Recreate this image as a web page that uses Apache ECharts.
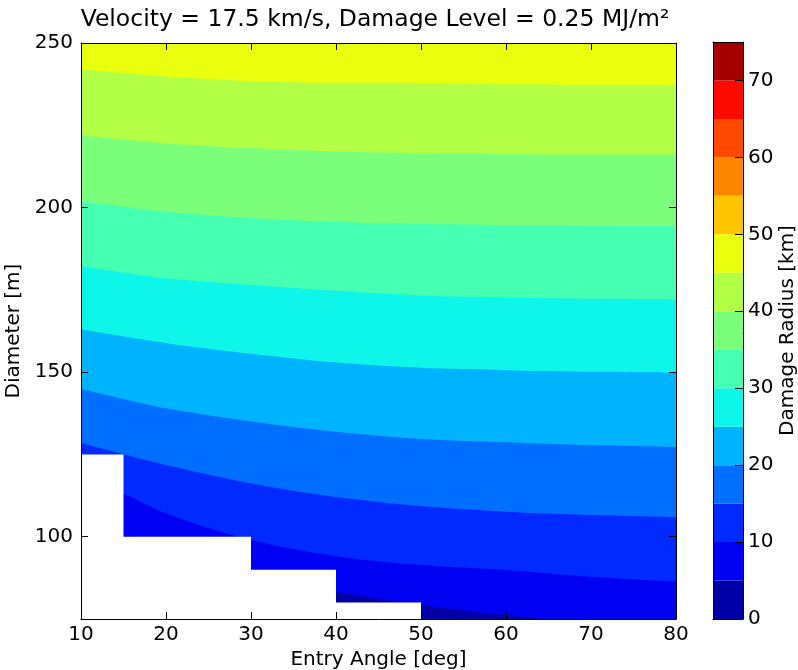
<!DOCTYPE html>
<html>
<head>
<meta charset="utf-8">
<title>Damage radius contours</title>
<script src="https://cdn.jsdelivr.net/npm/echarts@6/dist/echarts.min.js"></script>
<style>
  html, body { margin: 0; padding: 0; background: #fff; }
  #chart { width: 798px; height: 670px; }
</style>
</head>
<body>
<div id="chart"></div>
<script>
const angles = [10, 20, 30, 40, 50, 60, 70, 80]

// diameter [m] of each contour line (damage radius in km) at the angles above
const contour5 = [99, 93, 88, 83.3, 79.2, 76.2, 73.5, 71]
const contour10 = [120, 107.1, 99.0, 94.1, 91.4, 89.9, 87.8, 86.3]
const contour15 = [128.5, 121.8, 116.2, 112.1, 109.3, 107.6, 106.6, 105.9]
const contour20 = [144.9, 139.0, 135.0, 131.9, 129.7, 128.7, 127.8, 127.3]
const contour25 = [163.0, 158.8, 155.6, 152.9, 151.3, 150.6, 150.1, 149.8]
const contour30 = [182.2, 178.5, 176.5, 174.7, 173.3, 172.7, 172.3, 172.1]
const contour35 = [202.0, 198.7, 196.8, 195.6, 195.0, 194.7, 194.5, 194.4]
const contour40 = [222.0, 219.5, 218.1, 217.0, 216.5, 216.2, 216.1, 216.0]
const contour45 = [242.0, 239.8, 238.4, 237.9, 237.8, 237.5, 237.3, 237.2]

// region with no data (drawn white), stepped
const maskAngles = [10, 15, 30, 40, 50]
const maskTops = [125, 100, 90, 80, 75]

// contour levels / colorbar
const levels = [0, 5, 10, 15, 20, 25, 30, 35, 40, 45, 50, 55, 60, 65, 70, 75]
const levelTicks = [0, 10, 20, 30, 40, 50, 60, 70]
const angleTicks = [10, 20, 30, 40, 50, 60, 70, 80]
const diameterTicks = [100, 150, 200, 250]

// jet colours, one per band
const bandColors = ['#0000a6', '#0000f3', '#002aff', '#006eff', '#00b3ff', '#0df6e9', '#45ffb2', '#7bff7b',
  '#b2ff45', '#e9ff0d', '#ffc600', '#ff8700', '#ff4800', '#ff0a00', '#a60000']

const contourLines = [contour5, contour10, contour15, contour20, contour25, contour30, contour35, contour40, contour45]

const font = 'DejaVu Sans'
const black = '#000'

const chart = echarts.init(document.getElementById('chart'))

// each line fills everything above it, painted low to high
const contourSeries = contourLines.map((line, i) => {
  return {
    type: 'line',
    xAxisIndex: 0,
    yAxisIndex: 0,
    data: angles.map((a, j) => [a, line[j]]),
    smooth: 0.3,
    symbol: 'none',
    lineStyle: { width: 0 },
    areaStyle: { origin: 'end', color: bandColors[i + 1], opacity: 1 },
    silent: true,
    z: 2 + i * 0.01
  }
})

const maskSeries = {
  type: 'line',
  xAxisIndex: 0,
  yAxisIndex: 0,
  step: 'end',
  data: maskAngles.map((a, j) => [a, maskTops[j]]),
  symbol: 'none',
  lineStyle: { width: 0 },
  areaStyle: { origin: 'start', color: '#fff', opacity: 1 },
  silent: true,
  z: 3
}

const colorbarSeries = {
  type: 'custom',
  xAxisIndex: 2,
  yAxisIndex: 2,
  data: levels.slice(0, -1).map((lo, i) => [lo, levels[i + 1]]),
  encode: { y: [0, 1] },
  renderItem: function(params, api) {
    const p0 = api.coord([0, api.value(0)])
    const p1 = api.coord([1, api.value(1)])
    return {
      type: 'rect',
      shape: { x: p0[0], y: p1[1], width: p1[0] - p0[0], height: p0[1] - p1[1] },
      style: { fill: bandColors[params.dataIndex] }
    }
  },
  silent: true
}

const labelStyle = { color: black, fontFamily: font, fontSize: 20 }
const nameStyle = { color: black, fontFamily: font, fontSize: 20 }

chart.setOption({
  animation: false,
  backgroundColor: '#fff',
  title: {
    text: 'Velocity = 17.5 km/s, Damage Level = 0.25 MJ/m²',
    left: 375,
    top: 8,
    padding: 0,
    textAlign: 'center',
    textStyle: { color: black, fontFamily: font, fontSize: 23.5, fontWeight: 'normal' }
  },
  grid: [
    { left: 81, top: 43, width: 595, height: 576, outerBoundsMode: 'none', containLabel: false,
      backgroundColor: bandColors[0], show: true, borderWidth: 0 },
    { left: 713, top: 42, width: 30, height: 577, outerBoundsMode: 'none', containLabel: false }
  ],
  xAxis: [
    {
      gridIndex: 0, type: 'value', min: 10, max: 80, interval: 10, z: 10,
      position: 'bottom',
      name: 'Entry Angle [deg]', nameLocation: 'middle', nameGap: 30, nameTextStyle: nameStyle,
      axisLine: { show: true, lineStyle: { color: black, width: 1 } },
      axisTick: { show: true, inside: true, length: 7, customValues: angleTicks, lineStyle: { color: black } },
      axisLabel: { show: true, margin: 6, customValues: angleTicks, ...labelStyle },
      splitLine: { show: false }
    },
    {
      gridIndex: 0, type: 'value', min: 10, max: 80, interval: 10, z: 10,
      position: 'top',
      axisLine: { show: true, onZero: false, lineStyle: { color: black, width: 1 } },
      axisTick: { show: true, inside: true, length: 7, customValues: angleTicks, lineStyle: { color: black } },
      axisLabel: { show: false },
      splitLine: { show: false }
    },
    {
      gridIndex: 1, type: 'value', min: 0, max: 1, z: 10,
      position: 'bottom',
      axisLine: { show: true, onZero: false, lineStyle: { color: black, width: 1 } },
      axisTick: { show: false },
      axisLabel: { show: false },
      splitLine: { show: false }
    },
    {
      gridIndex: 1, type: 'value', min: 0, max: 1, z: 10,
      position: 'top',
      axisLine: { show: true, onZero: false, lineStyle: { color: black, width: 1 } },
      axisTick: { show: false },
      axisLabel: { show: false },
      splitLine: { show: false }
    }
  ],
  yAxis: [
    {
      gridIndex: 0, type: 'value', min: 75, max: 250, z: 10,
      position: 'left',
      name: 'Diameter [m]', nameLocation: 'middle', nameGap: 50, nameRotate: 90, nameTextStyle: nameStyle,
      axisLine: { show: true, onZero: false, lineStyle: { color: black, width: 1 } },
      axisTick: { show: true, inside: true, length: 7, customValues: diameterTicks, lineStyle: { color: black } },
      axisLabel: { show: true, margin: 8, customValues: diameterTicks, ...labelStyle },
      splitLine: { show: false }
    },
    {
      gridIndex: 0, type: 'value', min: 75, max: 250, z: 10,
      position: 'right',
      axisLine: { show: true, onZero: false, lineStyle: { color: black, width: 1 } },
      axisTick: { show: true, inside: true, length: 7, customValues: diameterTicks, lineStyle: { color: black } },
      axisLabel: { show: false },
      splitLine: { show: false }
    },
    {
      gridIndex: 1, type: 'value', min: 0, max: 75, z: 10,
      position: 'right',
      name: 'Damage Radius [km]', nameLocation: 'middle', nameGap: 35, nameRotate: 90, nameTextStyle: nameStyle,
      axisLine: { show: true, onZero: false, lineStyle: { color: black, width: 1 } },
      axisTick: { show: true, inside: true, length: 8, customValues: levelTicks, lineStyle: { color: black } },
      axisLabel: { show: true, margin: 5, customValues: levelTicks, ...labelStyle },
      splitLine: { show: false }
    },
    {
      gridIndex: 1, type: 'value', min: 0, max: 75, z: 10,
      position: 'left',
      axisLine: { show: true, onZero: false, lineStyle: { color: black, width: 1 } },
      axisTick: { show: false },
      axisLabel: { show: false },
      splitLine: { show: false }
    }
  ],
  series: contourSeries.concat([maskSeries, colorbarSeries])
})
</script>
</body>
</html>
